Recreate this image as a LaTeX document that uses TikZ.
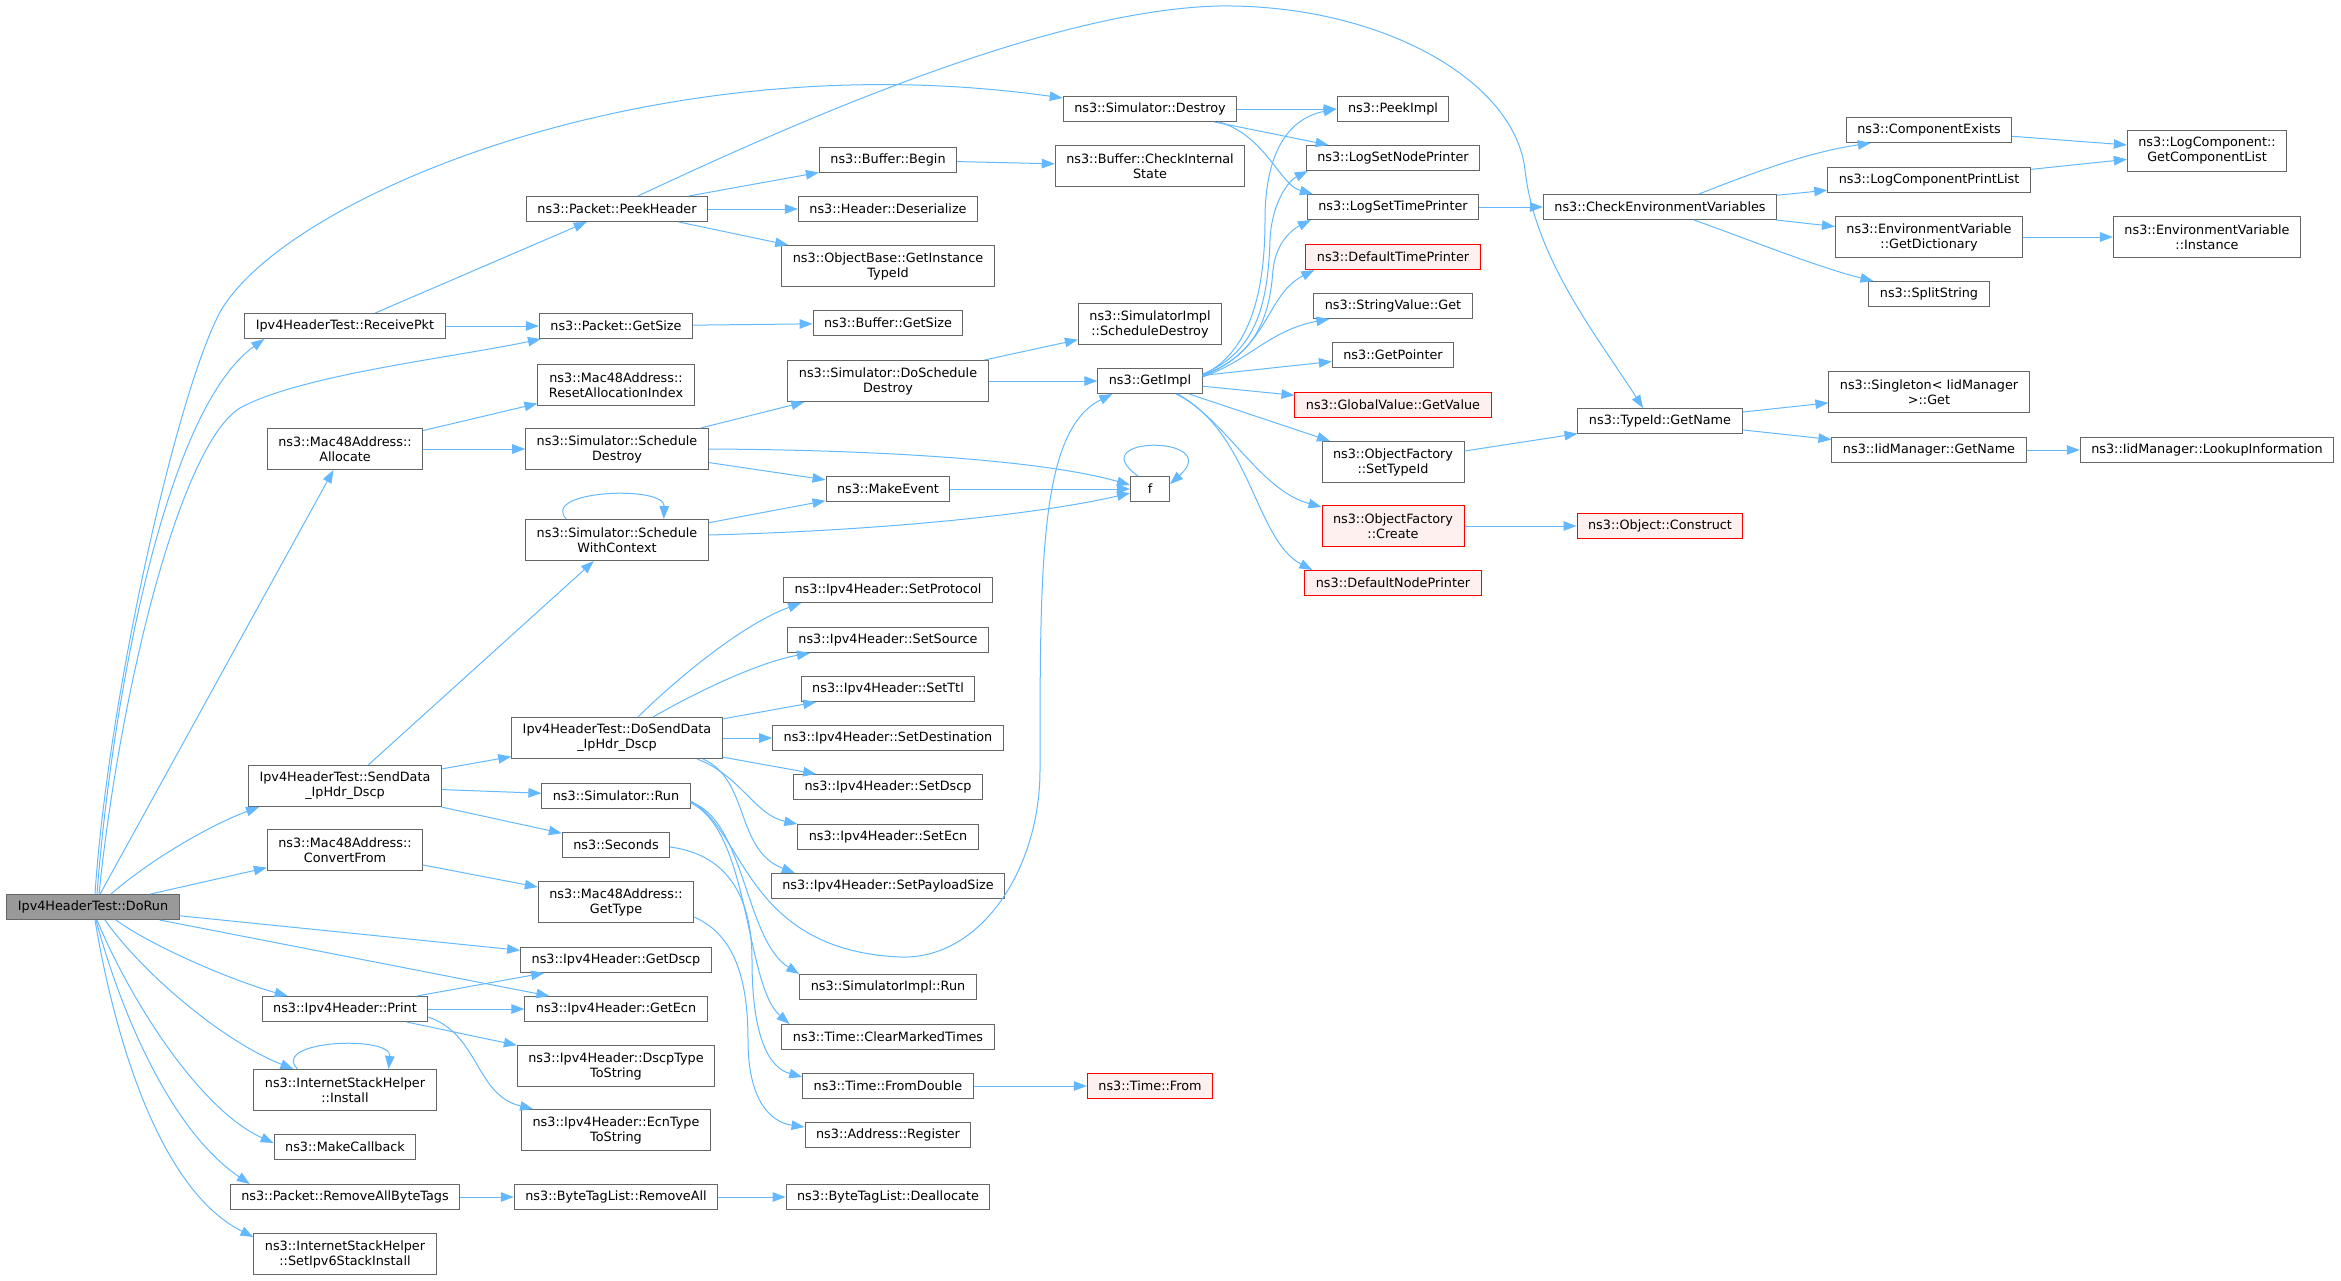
\documentclass[tikz,border=0pt]{standalone}
\usepackage{fontspec}
\setmainfont{DejaVu Sans}
\usetikzlibrary{graphs}
\usetikzlibrary{arrows.meta}

\definecolor{edgeblue}{HTML}{63B8FF}
\definecolor{boxgray}{HTML}{666666}
\definecolor{rootgray}{HTML}{999999}
\definecolor{missred}{HTML}{FF0000}
\definecolor{missfill}{HTML}{FFF0F0}

\begin{document}
\begin{tikzpicture} [x=1pt, y=-1pt,
        every node/.style={draw=boxgray, line width=1pt, fill=white, align=center,
            font=\fontsize{12.8}{15}\selectfont, inner xsep=11pt, minimum height=25pt},
        twoline/.style={minimum height=41pt},
        root/.style={fill=rootgray},
        missing/.style={draw=missred, fill=missfill},
        >={Triangle[length=13pt, width=9.5pt]},
        call/.style={draw=edgeblue, line width=1pt, ->}]
            \useasboundingbox (0, 0) rectangle (2341, 1280);

            \node[root] (dorun) at (93, 907) {Ipv4HeaderTest::DoRun};

            \node (rcv) at (345, 326) {Ipv4HeaderTest::ReceivePkt};
            \node[twoline] (alloc) at (345, 449) {ns3::Mac48Address::\\Allocate};
            \node[twoline] (senddata) at (345, 786) {Ipv4HeaderTest::SendData\\\_IpHdr\_Dscp};
            \node[twoline] (convfrom) at (345, 850) {ns3::Mac48Address::\\ConvertFrom};
            \node (print) at (345, 1009) {ns3::Ipv4Header::Print};
            \node[twoline] (install) at (345, 1090) {ns3::InternetStackHelper\\::Install};
            \node (mkcb) at (345, 1147) {ns3::MakeCallback};
            \node (rmtags) at (345, 1197) {ns3::Packet::RemoveAllByteTags};
            \node[twoline] (setv6) at (345, 1254) {ns3::InternetStackHelper\\::SetIpv6StackInstall};

            \node (peek) at (617, 209) {ns3::Packet::PeekHeader};
            \node (pktsize) at (616, 326) {ns3::Packet::GetSize};
            \node[twoline] (resetidx) at (616, 385) {ns3::Mac48Address::\\ResetAllocationIndex};
            \node[twoline] (schdestroy) at (617, 449) {ns3::Simulator::Schedule\\Destroy};
            \node[twoline] (schctx) at (617, 540) {ns3::Simulator::Schedule\\WithContext};
            \node[twoline] (dosend) at (617, 738) {Ipv4HeaderTest::DoSendData\\\_IpHdr\_Dscp};
            \node (simrun) at (616, 796) {ns3::Simulator::Run};
            \node (seconds) at (616, 845) {ns3::Seconds};
            \node[twoline] (gettype) at (616, 902) {ns3::Mac48Address::\\GetType};
            \node (getdscp) at (616, 960) {ns3::Ipv4Header::GetDscp};
            \node (getecn) at (616, 1009) {ns3::Ipv4Header::GetEcn};
            \node[twoline] (dscpstr) at (616, 1066) {ns3::Ipv4Header::DscpType\\ToString};
            \node[twoline] (ecnstr) at (616, 1130) {ns3::Ipv4Header::EcnType\\ToString};
            \node (rmall) at (616, 1197) {ns3::ByteTagList::RemoveAll};

            \node (begin) at (888, 160) {ns3::Buffer::Begin};
            \node (deser) at (888, 209) {ns3::Header::Deserialize};
            \node[twoline] (instid) at (888, 266) {ns3::ObjectBase::GetInstance\\TypeId};
            \node (bufsize) at (888, 323) {ns3::Buffer::GetSize};
            \node[twoline] (doschd) at (888, 381) {ns3::Simulator::DoSchedule\\Destroy};
            \node (mkevent) at (888, 489) {ns3::MakeEvent};
            \node (setproto) at (888, 590) {ns3::Ipv4Header::SetProtocol};
            \node (setsrc) at (888, 640) {ns3::Ipv4Header::SetSource};
            \node (setttl) at (888, 689) {ns3::Ipv4Header::SetTtl};
            \node (setdst) at (888, 738) {ns3::Ipv4Header::SetDestination};
            \node (setdscp) at (888, 787) {ns3::Ipv4Header::SetDscp};
            \node (setecn) at (888, 837) {ns3::Ipv4Header::SetEcn};
            \node (setpay) at (888, 886) {ns3::Ipv4Header::SetPayloadSize};
            \node (implrun) at (888, 987) {ns3::SimulatorImpl::Run};
            \node (clrtimes) at (888, 1037) {ns3::Time::ClearMarkedTimes};
            \node (fromdbl) at (888, 1086) {ns3::Time::FromDouble};
            \node (addrreg) at (888, 1135) {ns3::Address::Register};
            \node (dealloc) at (888, 1197) {ns3::ByteTagList::Deallocate};

            \node (destroy) at (1150, 109) {ns3::Simulator::Destroy};
            \node[twoline] (chkstate) at (1150, 166) {ns3::Buffer::CheckInternal\\State};
            \node[twoline] (impldestroy) at (1150, 324) {ns3::SimulatorImpl\\::ScheduleDestroy};
            \node (getimpl) at (1150, 381) {ns3::GetImpl};
            \node[minimum width=39pt] (f) at (1150, 489) {f};
            \node[missing] (timefrom) at (1150, 1086) {ns3::Time::From};

            \node (peekimpl) at (1393, 109) {ns3::PeekImpl};
            \node (nodeprinter) at (1393, 158) {ns3::LogSetNodePrinter};
            \node (timeprinter) at (1393, 207) {ns3::LogSetTimePrinter};
            \node[missing] (deftime) at (1393, 257) {ns3::DefaultTimePrinter};
            \node (strget) at (1393, 306) {ns3::StringValue::Get};
            \node (getptr) at (1393, 355) {ns3::GetPointer};
            \node[missing] (gvget) at (1393, 405) {ns3::GlobalValue::GetValue};
            \node[twoline] (settypeid) at (1393, 462) {ns3::ObjectFactory\\::SetTypeId};
            \node[twoline, missing] (create) at (1393, 526) {ns3::ObjectFactory\\::Create};
            \node[missing] (defnode) at (1393, 583) {ns3::DefaultNodePrinter};

            \node (checkenv) at (1660, 207) {ns3::CheckEnvironmentVariables};
            \node (tidname) at (1660, 421) {ns3::TypeId::GetName};
            \node[missing] (construct) at (1660, 526) {ns3::Object::Construct};

            \node (compexists) at (1929, 130) {ns3::ComponentExists};
            \node (printlist) at (1929, 180) {ns3::LogComponentPrintList};
            \node[twoline] (getdict) at (1929, 237) {ns3::EnvironmentVariable\\::GetDictionary};
            \node (split) at (1929, 294) {ns3::SplitString};
            \node[twoline] (singleton) at (1929, 392) {ns3::Singleton< IidManager\\>::Get};
            \node (iidname) at (1929, 450) {ns3::IidManager::GetName};

            \node[twoline] (complist) at (2207, 151) {ns3::LogComponent::\\GetComponentList};
            \node[twoline] (envinst) at (2207, 237) {ns3::EnvironmentVariable\\::Instance};
            \node (lookup) at (2207, 450) {ns3::IidManager::LookupInformation};

            \graph[edges={call}] {
                (dorun) -> (alloc);
                (dorun) -> (convfrom);
                (dorun) -> (getdscp);
                (dorun) -> (getecn);
                (rcv) -> (peek);
                (rcv) -> (pktsize) -> (bufsize);
                (peek) -> (begin) -> (chkstate);
                (peek) -> (deser);
                (peek) -> (instid);
                (alloc) -> (resetidx);
                (alloc) -> (schdestroy) -> (doschd) -> (impldestroy);
                (doschd) -> (getimpl);
                (schdestroy) -> (mkevent) -> (f);
                (schctx) -> (mkevent);
                (senddata) -> (schctx);
                (senddata) -> (dosend);
                (senddata) -> (simrun);
                (senddata) -> (seconds);
                (dosend) -> (setttl);
                (dosend) -> (setdst);
                (dosend) -> (setdscp);
                (convfrom) -> (gettype);
                (print) -> (getdscp);
                (print) -> (getecn);
                (print) -> (dscpstr);
                (rmtags) -> (rmall) -> (dealloc);
                (fromdbl) -> (timefrom);
                (destroy) -> (peekimpl);
                (destroy) -> (nodeprinter);
                (getimpl) -> (getptr);
                (getimpl) -> (gvget);
                (getimpl) -> (settypeid) -> (tidname);
                (create) -> (construct);
                (timeprinter) -> (checkenv);
                (checkenv) -> (printlist) -> (complist);
                (checkenv) -> (getdict) -> (envinst);
                (compexists) -> (complist);
                (tidname) -> (singleton);
                (tidname) -> (iidname) -> (lookup);
            };

            \draw[call] ([xshift=2pt]dorun.north) .. controls (108, 700) and (175, 400) .. (219, 314)
                .. controls (280, 200) and (650, 40) .. ([yshift=-2pt]destroy.north west);
            \draw[call] ([xshift=4pt]dorun.north) .. controls (112, 700) and (165, 410) .. ([xshift=20pt]rcv.south west);
            \draw[call] ([xshift=6pt]dorun.north) .. controls (120, 690) and (180, 445) .. (240, 408)
                .. controls (300, 375) and (450, 358) .. ([xshift=2pt]pktsize.south west);
            \draw[call] ([xshift=18pt]dorun.north) .. controls (150, 860) and (210, 825) .. ([xshift=11pt]senddata.south west);
            \draw[call] ([xshift=23pt]dorun.south) .. controls (150, 945) and (230, 980) .. ([xshift=26pt]print.north west);
            \draw[call] ([xshift=12pt]dorun.south) .. controls (140, 970) and (220, 1040) .. ([xshift=40pt]install.north west);
            \draw[call] ([xshift=4pt]dorun.south) .. controls (130, 1000) and (200, 1110) .. ([yshift=4pt]mkcb.west);
            \draw[call] ([xshift=3pt]dorun.south) .. controls (120, 1010) and (170, 1130) .. ([xshift=20pt]rmtags.north west);
            \draw[call] ([xshift=2pt]dorun.south) .. controls (115, 1040) and (160, 1190) .. ([yshift=-4pt]setv6.north west);

            \draw[call] ([xshift=21pt]peek.north) .. controls (800, 120) and (1050, 10) .. (1219, 6)
                .. controls (1380, 4) and (1515, 80) .. (1525, 170)
                .. controls (1535, 260) and (1600, 340) .. ([xshift=-17pt]tidname.north);

            \draw[call] (schdestroy.east) .. controls (900, 450) and (1050, 462) .. ([yshift=4pt]f.west);
            \draw[call] ([yshift=5pt]schctx.east) .. controls (900, 530) and (1050, 512) .. ([yshift=-4pt]f.west);
            \draw[call] ([xshift=-12pt]f.north) .. controls (1080, 435) and (1225, 435) .. ([yshift=5pt]f.east);
            \draw[call] ([xshift=41pt]schctx.north west) .. controls (540, 490) and (665, 485) .. ([xshift=-45pt]schctx.north east);
            \draw[call] ([xshift=44pt]install.north west) .. controls (270, 1040) and (392, 1035) .. ([xshift=-48pt]install.north east);

            \draw[call] ([xshift=21pt]dosend.north) .. controls (670, 685) and (740, 625) .. ([xshift=18pt]setproto.south west);
            \draw[call] ([xshift=36pt]dosend.north) .. controls (700, 690) and (760, 662) .. ([xshift=23pt]setsrc.south west);
            \draw[call] ([xshift=80pt]dosend.south) .. controls (740, 775) and (755, 815) .. (setecn.north west);
            \draw[call] ([xshift=86pt]dosend.south) .. controls (750, 780) and (735, 850) .. ([xshift=24pt]setpay.north west);

            \draw[call] ([yshift=-5pt]simrun.east) .. controls (745, 830) and (745, 950) .. (900, 957)
                .. controls (980, 960) and (1040, 870) .. (1040, 770)
                .. controls (1040, 560) and (1040, 430) .. ([xshift=15pt]getimpl.south west);
            \draw[call] ([yshift=-6pt]simrun.east) .. controls (745, 820) and (745, 940) .. (implrun.north west);
            \draw[call] ([yshift=-7pt]simrun.east) .. controls (750, 830) and (745, 985) .. ([xshift=8pt]clrtimes.north west);
            \draw[call] ([yshift=-2pt]seconds.east) .. controls (730, 855) and (752, 900) .. (752, 960)
                .. controls (752, 1040) and (770, 1068) .. ([yshift=-4pt]fromdbl.north west);
            \draw[call] ([yshift=-15pt]gettype.east) .. controls (735, 935) and (748, 980) .. (748, 1040)
                .. controls (748, 1100) and (770, 1122) .. ([yshift=-5pt]addrreg.north west);
            \draw[call] ([yshift=-8pt]print.east) .. controls (480, 1035) and (475, 1095) .. ([xshift=12pt]ecnstr.north west);

            \draw[call] ([xshift=69pt]destroy.south) .. controls (1265, 135) and (1280, 185) .. ([xshift=6pt]timeprinter.north west);
            \draw[call] ([yshift=6pt]getimpl.east) .. controls (1255, 350) and (1265, 280) .. (1265, 220)
                .. controls (1265, 150) and (1290, 118) .. (peekimpl.west);
            \draw[call] ([yshift=7pt]getimpl.east) .. controls (1258, 352) and (1268, 300) .. (1270, 240)
                .. controls (1272, 200) and (1290, 180) .. ([xshift=2pt]nodeprinter.south west);
            \draw[call] ([yshift=6pt]getimpl.east) .. controls (1260, 355) and (1270, 310) .. (1273, 270)
                .. controls (1276, 240) and (1295, 228) .. ([xshift=4pt]timeprinter.south west);
            \draw[call] ([yshift=5pt]getimpl.east) .. controls (1270, 350) and (1265, 295) .. ([xshift=9pt]deftime.south west);
            \draw[call] ([yshift=4pt]getimpl.east) .. controls (1250, 360) and (1270, 330) .. ([xshift=16pt]strget.south west);
            \draw[call] ([xshift=28pt]getimpl.south) .. controls (1230, 425) and (1260, 490) .. ([yshift=-2pt]create.north west);
            \draw[call] ([xshift=26pt]getimpl.south) .. controls (1250, 430) and (1255, 540) .. ([xshift=8pt]defnode.north west);

            \draw[call] ([xshift=39pt]checkenv.north) .. controls (1760, 170) and (1810, 152) .. ([xshift=25pt]compexists.south west);
            \draw[call] ([xshift=34pt]checkenv.south) .. controls (1750, 240) and (1820, 268) .. ([xshift=5pt]split.north west);
        \end{tikzpicture}
\end{document}
